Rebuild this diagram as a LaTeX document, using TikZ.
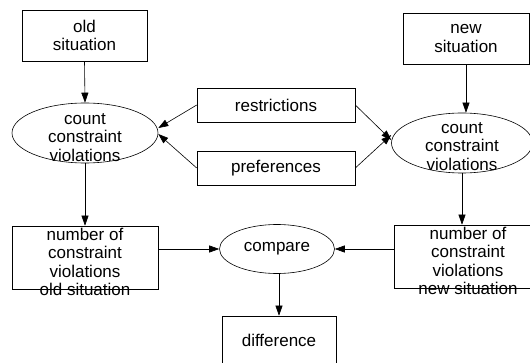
\documentclass[tikz,border=0pt]{standalone}
\usepackage{fontspec}
\setmainfont{Liberation Sans}
\usepackage{tikz}
\usetikzlibrary{arrows.meta,shapes.geometric,calc}

\begin{document}
\begin{tikzpicture}[x=1pt,y=-1pt,line width=0.6pt,
    every node/.style={font=\fontsize{17}{18.5}\selectfont,inner sep=0pt,align=center},
    box/.style={draw,rectangle},
    oval/.style={draw,ellipse},
    arr/.style={-{Triangle[length=10pt,width=7pt]}}]
    % Frame
    \useasboundingbox (0,0) rectangle (530,363);
    \clip (0,0) rectangle (530,363);

    % Situations
    \node[box,minimum width=125pt,minimum height=51pt] (oldsit) at (84.5,35.5) {old\\situation};
    \node[box,minimum width=126pt,minimum height=51pt] (newsit) at (466,38.5) {new\\situation};

    % Constraints
    \node[box,minimum width=158pt,minimum height=34pt] (restr) at (276,105) {restrictions};
    \node[box,minimum width=158pt,minimum height=34pt] (pref) at (276,168) {preferences};

    % Counting
    \node[oval,minimum width=146pt,minimum height=60pt] (cntold) at (85,133) {};
    \node (cntoldtxt) at (85,137.5) {count\\constraint\\violations};
    \node[oval,minimum width=141pt,minimum height=60pt] (cntnew) at (462,143) {};
    \node (cntnewtxt) at (462,146.5) {count\\constraint\\violations};

    % Numbers of violations
    \node[box,minimum width=146pt,minimum height=63pt] (oldnum) at (85,257.5) {};
    \node (oldnumtxt) at (85,262) {number of\\constraint\\violations\\old situation};
    \node[box,minimum width=148pt,minimum height=63pt] (newnum) at (468,256.5) {};
    \node (newnumtxt) at (468,261) {number of\\constraint\\violations\\new situation};

    % Comparison
    \node[oval,minimum width=115pt,minimum height=49pt] (cmp) at (277,249) {compare};
    \node[box,minimum width=114pt,minimum height=49pt] (diff) at (279,340.5) {difference};

    % Arrows
    \draw[arr] (oldsit.south) -- (cntold.north);
    \draw[arr] (newsit.south) -- (newsit.south |- cntnew.north);
    \draw[arr] (restr.west) -- ($(cntold.east)+(0,-5)$);
    \draw[arr] (pref.west) -- ($(cntold.east)+(0,1)$);
    \draw[arr] (restr.east) -- ($(cntnew.west)+(0,-3)$);
    \draw[arr] (pref.east) -- ($(cntnew.west)+(0,-8)$);
    \draw[arr] (cntold.south) -- (oldnum.north);
    \draw[arr] (cntnew.south) -- (cntnew.south |- newnum.north);
    \draw[arr] (oldnum.east |- cmp.west) -- (cmp.west);
    \draw[arr] (newnum.west |- cmp.east) -- (cmp.east);
    \draw[arr] (diff.north |- cmp.south) -- (diff.north);
\end{tikzpicture}
\end{document}
